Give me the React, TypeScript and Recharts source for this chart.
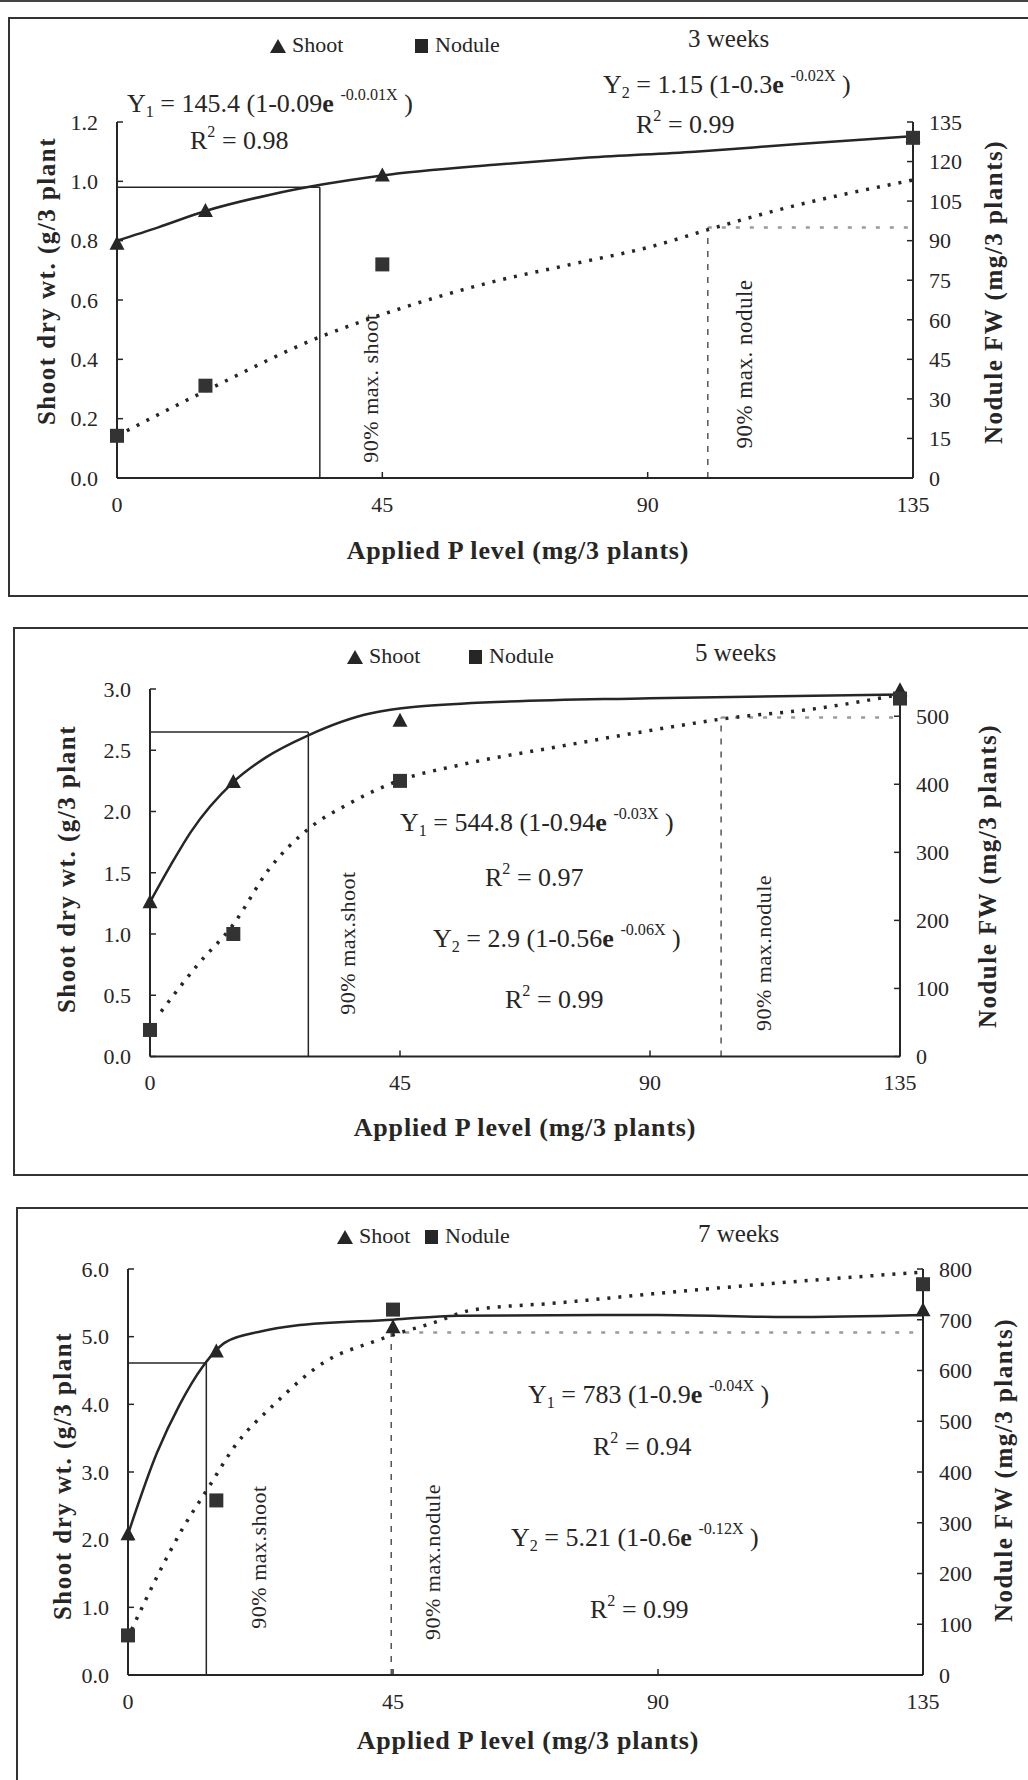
import React from 'react';
import { ComposedChart, Line, Scatter, XAxis, YAxis, ReferenceLine } from 'recharts';

// applied P levels (mg / 3 plants)
const P_LEVELS = [0, 15, 45, 135];
const X_TICKS = [0, 45, 90, 135];

// ---- 3 weeks ----
const SHOOT_3W = [0.79, 0.9, 1.02, 1.15];
const NODULE_3W = [16, 35, 81, 129];
const SHOOT_FIT_X_3W = [0, 7, 15, 26, 35, 45, 64, 80, 98, 115, 135];
const SHOOT_FIT_3W = [0.8, 0.845, 0.9, 0.955, 0.99, 1.02, 1.056, 1.08, 1.1, 1.125, 1.152];
const NODULE_FIT_X_3W = [0, 15, 35, 45, 63, 77, 91, 100, 111, 135];
const NODULE_FIT_3W = [16, 33, 54, 62, 74, 81, 88, 94, 101, 113];
const SHOOT_TICKS_3W = [0, 0.2, 0.4, 0.6, 0.8, 1.0, 1.2];
const NODULE_TICKS_3W = [0, 15, 30, 45, 60, 75, 90, 105, 120, 135];
const SHOOT90_3W = [34.4, 0.98]; // [P level, shoot]
const NODULE90_3W = [100.2, 95]; // [P level, nodule]

// ---- 5 weeks ----
const SHOOT_5W = [1.26, 2.24, 2.74, 2.99];
const NODULE_5W = [39, 180, 405, 526];
const SHOOT_FIT_X_5W = [0, 3.7, 7.3, 15, 20.8, 28.4, 39.6, 56, 90, 135];
const SHOOT_FIT_5W = [1.26, 1.56, 1.83, 2.24, 2.44, 2.62, 2.8, 2.88, 2.925, 2.955];
const NODULE_FIT_X_5W = [2, 8.5, 15, 21.4, 28.6, 35.7, 45, 55.6, 73.3, 90, 103, 120.6, 135];
const NODULE_FIT_5W = [66, 134, 194, 275, 335, 371, 406, 428, 455, 479, 496, 512, 532];
const SHOOT_TICKS_5W = [0, 0.5, 1.0, 1.5, 2.0, 2.5, 3.0];
const NODULE_TICKS_5W = [0, 100, 200, 300, 400, 500];
const SHOOT90_5W = [28.5, 2.65];
const NODULE90_5W = [102.8, 498];

// ---- 7 weeks ----
const SHOOT_7W = [2.08, 4.78, 5.14, 5.39];
const NODULE_7W = [78, 344, 720, 770];
const SHOOT_FIT_X_7W = [0, 4.9, 8.8, 12.7, 16.6, 22.7, 28.2, 45, 56, 90, 112, 135];
const SHOOT_FIT_7W = [2.08, 3.28, 4.0, 4.56, 4.92, 5.08, 5.16, 5.25, 5.31, 5.32, 5.29, 5.32];
const NODULE_FIT_X_7W = [0.6, 4.9, 9.3, 13.7, 18.2, 24.8, 33.7, 41.5, 45, 51.6, 58.4, 72.8, 90, 112, 135];
const NODULE_FIT_7W = [89, 193, 289, 370, 452, 533, 619, 656, 670, 693, 719, 733, 752, 774, 794];
const SHOOT_TICKS_7W = [0, 1, 2, 3, 4, 5, 6];
const NODULE_TICKS_7W = [0, 100, 200, 300, 400, 500, 600, 700, 800];
const SHOOT90_7W = [13.3, 4.61];
const NODULE90_7W = [44.7, 675];

const INK = '#262626';
const FONT = "'Liberation Serif', 'Times New Roman', serif";
const TICK = { fill: INK, fontSize: 22, fontFamily: FONT };

const pts = (xs: number[], ys: number[]) => xs.map((x, i) => ({ x, y: ys[i] }));

const TriangleShape = (p: any) => (
  <polygon
    points={`${p.cx},${p.cy - 8} ${p.cx - 7.5},${p.cy + 6} ${p.cx + 7.5},${p.cy + 6}`}
    fill={INK}
  />
);
const SquareShape = (p: any) => (
  <rect x={p.cx - 7} y={p.cy - 7} width={14} height={14} fill="#333" />
);

function Txt({ x, base, size, bold, spacing, children }: any) {
  return (
    <div
      style={{
        position: 'absolute', left: x, top: base - 0.84 * size, fontSize: size, lineHeight: 1,
        fontWeight: bold ? 700 : 400, letterSpacing: spacing ?? 0, whiteSpace: 'nowrap', color: INK,
      }}
    >
      {children}
    </div>
  );
}

function VTxt({ cx, cy, size, bold, spacing, children }: any) {
  return (
    <div
      style={{
        position: 'absolute', left: cx, top: cy, fontSize: size, lineHeight: 1,
        fontWeight: bold ? 700 : 400, letterSpacing: spacing ?? 0, whiteSpace: 'nowrap', color: INK,
        transform: 'translate(-50%, -50%) rotate(-90deg)',
      }}
    >
      {children}
    </div>
  );
}

const Sub = ({ children }: any) => (
  <span style={{ fontSize: '0.62em', position: 'relative', top: '0.28em' }}>{children}</span>
);
const Sup = ({ children }: any) => (
  <span style={{ fontSize: '0.62em', position: 'relative', top: '-0.75em' }}>{children}</span>
);

function Equation({ x, base, n, coef, k, exp }: any) {
  return (
    <Txt x={x} base={base} size={26}>
      Y<Sub>{n}</Sub> = {coef} (1-{k}<b>e</b> <Sup>{exp}</Sup> )
    </Txt>
  );
}

function RSq({ x, base, v }: any) {
  return (
    <Txt x={x} base={base} size={26}>
      R<Sup>2</Sup> = {v}
    </Txt>
  );
}

function Legend({ tri, sq, y, base }: any) {
  return (
    <>
      <svg style={{ position: 'absolute', left: tri, top: y }} width={16} height={14}>
        <polygon points="8,0 0,14 16,14" fill={INK} />
      </svg>
      <Txt x={tri + 22} base={base} size={22}>Shoot</Txt>
      <svg style={{ position: 'absolute', left: sq, top: y }} width={13} height={14}>
        <rect x={0} y={0} width={13} height={14} fill={INK} />
      </svg>
      <Txt x={sq + 20} base={base} size={22}>Nodule</Txt>
    </>
  );
}

function XTitle({ cx, cy }: any) {
  return (
    <div
      style={{
        position: 'absolute', left: cx, top: cy, transform: 'translate(-50%,-50%)', fontSize: 26,
        fontWeight: 700, letterSpacing: 0.8, whiteSpace: 'nowrap', lineHeight: 1,
      }}
    >
      Applied P level (mg/3 plants)
    </div>
  );
}

function Panel({
  top, height, plot, shootDomain, shootTicks, noduleDomain, noduleTicks,
  shoot, nodule, shootFitX, shootFit, noduleFitX, noduleFit, shoot90, nodule90,
}: any) {
  const [pl, pt, pr, pb] = plot;
  const axisLine = { stroke: INK, strokeWidth: 2 };
  const tickLine = { stroke: INK, strokeWidth: 1.5 };
  return (
    <div style={{ position: 'absolute', left: 0, top }}>
      <ComposedChart
        width={1028}
        height={height}
        margin={{ top: pt, left: pl - 60, right: 1028 - pr - 60, bottom: height - pb - 30 }}
      >
        <XAxis
          type="number" dataKey="x" domain={[0, 135]} ticks={X_TICKS} interval={0}
          tickLine={tickLine} tickSize={-6} tickMargin={24} axisLine={axisLine} tick={TICK} height={30}
        />
        <YAxis
          yAxisId="l" orientation="left" width={60} domain={shootDomain} ticks={shootTicks} interval={0}
          tickLine={tickLine} tickSize={-6} tickMargin={25} axisLine={axisLine} tick={TICK}
          tickFormatter={(v: number) => v.toFixed(1)}
        />
        <YAxis
          yAxisId="r" orientation="right" width={60} domain={noduleDomain} ticks={noduleTicks} interval={0}
          tickLine={tickLine} tickSize={-6} tickMargin={22} axisLine={axisLine} tick={TICK}
        />
        {/* 90 % of maximum shoot */}
        <ReferenceLine yAxisId="l" segment={[{ x: 0, y: shoot90[1] }, { x: shoot90[0], y: shoot90[1] }]} stroke={INK} strokeWidth={1.5} />
        <ReferenceLine yAxisId="l" segment={[{ x: shoot90[0], y: 0 }, { x: shoot90[0], y: shoot90[1] }]} stroke={INK} strokeWidth={1.5} />
        {/* 90 % of maximum nodule */}
        <ReferenceLine yAxisId="r" segment={[{ x: nodule90[0], y: 0 }, { x: nodule90[0], y: nodule90[1] }]} stroke="#555" strokeWidth={1.5} strokeDasharray="6 7" />
        <ReferenceLine yAxisId="r" segment={[{ x: nodule90[0], y: nodule90[1] }, { x: 135, y: nodule90[1] }]} stroke="#9a9a9a" strokeWidth={2.5} strokeDasharray="4 10" />
        <Line
          yAxisId="l" data={pts(shootFitX, shootFit)} dataKey="y" type="monotone" stroke={INK}
          strokeWidth={2.5} dot={false} isAnimationActive={false}
        />
        <Line
          yAxisId="r" data={pts(noduleFitX, noduleFit)} dataKey="y" type="monotone" stroke={INK}
          strokeWidth={3.5} strokeDasharray="3 8" dot={false} isAnimationActive={false}
        />
        <Scatter yAxisId="l" data={pts(P_LEVELS, shoot)} dataKey="y" shape={TriangleShape} isAnimationActive={false} />
        <Scatter yAxisId="r" data={pts(P_LEVELS, nodule)} dataKey="y" shape={SquareShape} isAnimationActive={false} />
      </ComposedChart>
    </div>
  );
}

export default function App() {
  return (
    <div
      style={{
        position: 'absolute', left: 0, top: 0, width: 1028, height: 1780, overflow: 'hidden',
        background: '#fff', fontFamily: FONT, color: INK,
      }}
    >
      <div style={{ position: 'absolute', left: 0, top: 0, width: 1028, height: 2, background: '#444' }} />

      {/* frames */}
      <div style={{ position: 'absolute', left: 8, top: 17, width: 1030, height: 576, border: '2px solid #333' }} />
      <div style={{ position: 'absolute', left: 13, top: 627, width: 1030, height: 545, border: '2px solid #333' }} />
      <div style={{ position: 'absolute', left: 16, top: 1207, width: 1030, height: 600, border: '2px solid #333' }} />

      {/* 3 weeks */}
      <Panel
        top={0} height={600} plot={[117, 122, 913, 478]}
        shootDomain={[0, 1.2]} shootTicks={SHOOT_TICKS_3W} noduleDomain={[0, 135]} noduleTicks={NODULE_TICKS_3W}
        shoot={SHOOT_3W} nodule={NODULE_3W} shootFitX={SHOOT_FIT_X_3W} shootFit={SHOOT_FIT_3W}
        noduleFitX={NODULE_FIT_X_3W} noduleFit={NODULE_FIT_3W} shoot90={SHOOT90_3W} nodule90={NODULE90_3W}
      />
      <Legend tri={270} sq={415} y={39} base={52} />
      <Txt x={688} base={47} size={25}>3 weeks</Txt>
      <Equation x={127} base={113} n={1} coef="145.4" k="0.09" exp="-0.0.01X" />
      <RSq x={190} base={150} v="0.98" />
      <Equation x={603} base={94} n={2} coef="1.15" k="0.3" exp="-0.02X" />
      <RSq x={636} base={134} v="0.99" />
      <VTxt cx={46} cy={281} size={25} bold spacing={1.5}>Shoot dry wt. (g/3 plant</VTxt>
      <VTxt cx={993} cy={292} size={25} bold spacing={1.5}>Nodule FW (mg/3 plants)</VTxt>
      <VTxt cx={371} cy={388} size={22} spacing={0.5}>90% max. shoot</VTxt>
      <VTxt cx={744} cy={364} size={23} spacing={0.5}>90% max. nodule</VTxt>
      <XTitle cx={518} cy={551} />

      {/* 5 weeks */}
      <Panel
        top={610} height={580} plot={[150, 79, 900, 446.5]}
        shootDomain={[0, 3]} shootTicks={SHOOT_TICKS_5W} noduleDomain={[0, 540]} noduleTicks={NODULE_TICKS_5W}
        shoot={SHOOT_5W} nodule={NODULE_5W} shootFitX={SHOOT_FIT_X_5W} shootFit={SHOOT_FIT_5W}
        noduleFitX={NODULE_FIT_X_5W} noduleFit={NODULE_FIT_5W} shoot90={SHOOT90_5W} nodule90={NODULE90_5W}
      />
      <Legend tri={347} sq={469} y={650} base={663} />
      <Txt x={695} base={661} size={25}>5 weeks</Txt>
      <Equation x={400} base={832} n={1} coef="544.8" k="0.94" exp="-0.03X" />
      <RSq x={485} base={887} v="0.97" />
      <Equation x={433} base={948} n={2} coef="2.9" k="0.56" exp="-0.06X" />
      <RSq x={505} base={1009} v="0.99" />
      <VTxt cx={66} cy={869} size={25} bold spacing={1.5}>Shoot dry wt. (g/3 plant</VTxt>
      <VTxt cx={987} cy={876} size={25} bold spacing={1.5}>Nodule FW (mg/3 plants)</VTxt>
      <VTxt cx={348} cy={943} size={22} spacing={0.5}>90% max.shoot</VTxt>
      <VTxt cx={764} cy={953} size={22} spacing={0.5}>90% max.nodule</VTxt>
      <XTitle cx={525} cy={1128} />

      {/* 7 weeks */}
      <Panel
        top={1190} height={590} plot={[128, 79, 923, 485]}
        shootDomain={[0, 6]} shootTicks={SHOOT_TICKS_7W} noduleDomain={[0, 800]} noduleTicks={NODULE_TICKS_7W}
        shoot={SHOOT_7W} nodule={NODULE_7W} shootFitX={SHOOT_FIT_X_7W} shootFit={SHOOT_FIT_7W}
        noduleFitX={NODULE_FIT_X_7W} noduleFit={NODULE_FIT_7W} shoot90={SHOOT90_7W} nodule90={NODULE90_7W}
      />
      <Legend tri={337} sq={425} y={1230} base={1243} />
      <Txt x={698} base={1242} size={25}>7 weeks</Txt>
      <Equation x={528} base={1404} n={1} coef="783" k="0.9" exp="-0.04X" />
      <RSq x={593} base={1456} v="0.94" />
      <Equation x={511} base={1547} n={2} coef="5.21" k="0.6" exp="-0.12X" />
      <RSq x={590} base={1619} v="0.99" />
      <VTxt cx={62} cy={1476} size={25} bold spacing={1.5}>Shoot dry wt. (g/3 plant</VTxt>
      <VTxt cx={1003} cy={1470} size={25} bold spacing={1.5}>Nodule FW (mg/3 plants)</VTxt>
      <VTxt cx={259} cy={1557} size={22} spacing={0.5}>90% max.shoot</VTxt>
      <VTxt cx={433} cy={1562} size={22} spacing={0.5}>90% max.nodule</VTxt>
      <XTitle cx={528} cy={1741} />
    </div>
  );
}
